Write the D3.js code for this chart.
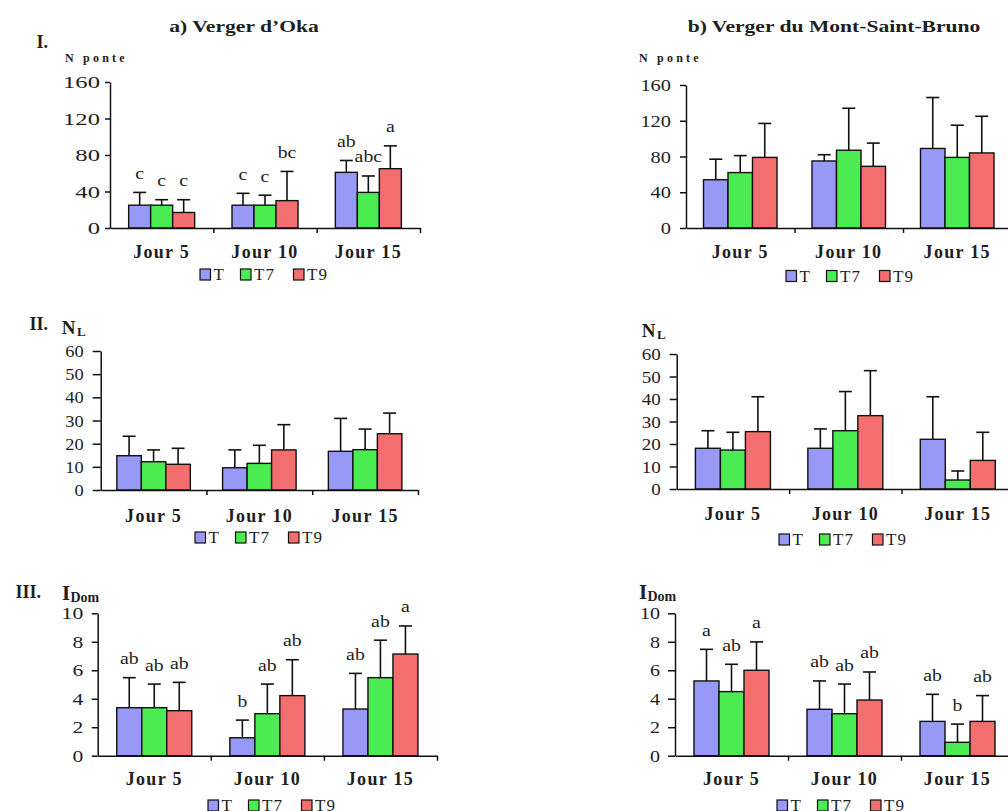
<!DOCTYPE html>
<html>
<head>
<meta charset="utf-8">
<script src="https://cdn.jsdelivr.net/npm/d3@7"></script>
<style>
  html, body { margin: 0; padding: 0; background: #fff; }
  svg { display: block; }
  svg text { font-family: "Liberation Serif", "DejaVu Serif", serif; fill: #1e1e1e; }
</style>
</head>
<body>
<svg id="chart" width="1008" height="811"></svg>
<script>
// ---- data -------------------------------------------------------------
const days = ["Jour 5", "Jour 10", "Jour 15"];
const treatments = ["T", "T7", "T9"];
const colors = ["#9898f7", "#4aec52", "#f36e6e"];

const ponteTicks = [0, 40, 80, 120, 160];
const nlTicks = [0, 10, 20, 30, 40, 50, 60];
const idomTicks = [0, 2, 4, 6, 8, 10];

// a) Verger d'Oka  — rows: day, columns: treatment
const okaPonteMean = [[25, 25, 17], [25, 25, 30], [61, 39, 65]];
const okaPonteSd = [[14, 6, 14], [13, 11, 32], [13, 18, 25]];
const okaPonteLetters = [["c", "c", "c"], ["c", "c", "bc"], ["ab", "abc", "a"]];

const okaNlMean = [[14.8, 12.2, 11.1], [9.6, 11.5, 17.3], [16.7, 17.4, 24.3]];
const okaNlSd = [[8.4, 5.1, 6.9], [7.7, 7.8, 10.9], [14.2, 8.9, 8.9]];

const okaIdomMean = [[3.37, 3.37, 3.16], [1.26, 2.95, 4.22], [3.28, 5.48, 7.14]];
const okaIdomSd = [[2.11, 1.66, 1.99], [1.24, 2.08, 2.52], [2.5, 2.63, 1.97]];
const okaIdomLetters = [["ab", "ab", "ab"], ["b", "ab", "ab"], ["ab", "ab", "a"]];

// b) Verger du Mont-Saint-Bruno
const msbPonteMean = [[54, 62, 79], [75, 87, 69], [89, 79, 84]];
const msbPonteSd = [[23, 19, 38], [7, 47, 26], [57, 36, 41]];

const msbNlMean = [[18.1, 17.3, 25.5], [18.1, 25.9, 32.6], [22.1, 4, 12.7]];
const msbNlSd = [[7.8, 7.9, 15.5], [8.6, 17.4, 20], [18.9, 4, 12.5]];

const msbIdomMean = [[5.25, 4.5, 6.0], [3.26, 2.95, 3.91], [2.41, 0.94, 2.41]];
const msbIdomSd = [[2.22, 1.92, 1.99], [1.99, 2.08, 1.97], [1.9, 1.28, 1.81]];
const msbIdomLetters = [["a", "ab", "a"], ["ab", "ab", "ab"], ["ab", "b", "ab"]];

// ---- layout of the six panels ----------------------------------------
const panels = [
  { mean: okaPonteMean, sd: okaPonteSd, letters: okaPonteLetters, ticks: ponteTicks, ymax: 160,
    x0: 110, x1: 420, y0: 228, y1: 82, bw: 22, tickLen: 5, labGap: 10, tickSx: 1.45,
    catY: 258, legX: 200, legY: 280 },
  { mean: msbPonteMean, sd: msbPonteSd, letters: null, ticks: ponteTicks, ymax: 160,
    x0: 686, x1: 1011.5, y0: 228, y1: 85, bw: 24.5, tickLen: 6, labGap: 15, tickSx: 1.2,
    catY: 258, legX: 786, legY: 281.5 },
  { mean: okaNlMean, sd: okaNlSd, letters: null, ticks: nlTicks, ymax: 60,
    x0: 100.7, x1: 418, y0: 490, y1: 351, bw: 24.5, tickLen: 8, labGap: 17, tickSx: 1.08,
    catY: 521.5, legX: 195, legY: 543 },
  { mean: msbNlMean, sd: msbNlSd, letters: null, ticks: nlTicks, ymax: 60,
    x0: 676.7, x1: 1014, y0: 489, y1: 354, bw: 25, tickLen: 7, labGap: 16, tickSx: 1.12,
    catY: 520, legX: 779, legY: 545 },
  { mean: okaIdomMean, sd: okaIdomSd, letters: okaIdomLetters, ticks: idomTicks, ymax: 10,
    x0: 97.7, x1: 437, y0: 755.7, y1: 613.3, bw: 25, tickLen: 6, labGap: 14.5, tickSx: 1.27,
    catY: 785, legX: 208, legY: 811 },
  { mean: msbIdomMean, sd: msbIdomSd, letters: msbIdomLetters, ticks: idomTicks, ymax: 10,
    x0: 675, x1: 1014, y0: 755.7, y1: 613.3, bw: 25, tickLen: 7, labGap: 15, tickSx: 1.18,
    catY: 785, legX: 777, legY: 811 }
];

const FONT = "'Liberation Serif', 'DejaVu Serif', serif";
const svg = d3.select("#chart");
svg.append("rect").attr("width", 1008).attr("height", 811).attr("fill", "#fff");

// text helper: Times-like glyphs widened horizontally
function label(g, x, y, str, o = {}) {
  return g.append("text")
    .attr("transform", `translate(${x},${y}) scale(${o.sx || 1},1)`)
    .attr("text-anchor", o.anchor || "start")
    .attr("font-family", FONT)
    .attr("font-size", o.size || 17)
    .attr("font-weight", o.weight || "normal")
    .attr("letter-spacing", o.ls || 0)
    .text(str);
}

function drawPanel(p) {
  const g = svg.append("g");
  const y = d3.scaleLinear().domain([0, p.ymax]).range([p.y0, p.y1]);
  const xb = d3.scaleBand().domain(days).range([p.x0, p.x1]);
  const xl = d3.scaleLinear().domain([0, days.length]).range([p.x0, p.x1]);
  const inner = d3.scaleBand().domain(treatments).range([0, p.bw * treatments.length]);
  const off = (xb.bandwidth() - p.bw * treatments.length) / 2;

  const recs = days.flatMap((d, i) => treatments.map((t, j) => ({
    d, t, j, m: p.mean[i][j], s: p.sd[i][j], l: p.letters ? p.letters[i][j] : null
  })));
  const cx = r => xb(r.d) + off + inner(r.t) + inner.bandwidth() / 2;

  // error bars (upper only)
  g.selectAll("line.err").data(recs).join("line")
    .attr("x1", cx).attr("x2", cx)
    .attr("y1", r => y(r.m)).attr("y2", r => y(r.m + r.s))
    .attr("stroke", "#111").attr("stroke-width", 1.6);
  g.selectAll("line.cap").data(recs).join("line")
    .attr("x1", r => cx(r) - 6.5).attr("x2", r => cx(r) + 6.5)
    .attr("y1", r => y(r.m + r.s)).attr("y2", r => y(r.m + r.s))
    .attr("stroke", "#111").attr("stroke-width", 1.6);

  // bars
  g.selectAll("rect.bar").data(recs).join("rect")
    .attr("x", r => xb(r.d) + off + inner(r.t))
    .attr("y", r => y(r.m))
    .attr("width", inner.bandwidth())
    .attr("height", r => y(0) - y(r.m))
    .attr("fill", r => colors[r.j])
    .attr("stroke", "#111").attr("stroke-width", 1.4);

  // significance letters
  recs.filter(r => r.l).forEach(r => {
    label(g, cx(r), y(r.m + r.s) - 13.5, r.l, { anchor: "middle", size: 16.5, sx: 1.2 });
  });

  // y axis
  const ya = g.append("g").attr("transform", `translate(${p.x0},0)`)
    .call(d3.axisLeft(y).tickValues(p.ticks).tickSize(p.tickLen).tickSizeOuter(0));
  ya.attr("font-family", FONT);
  ya.select(".domain").attr("stroke", "#111").attr("stroke-width", 1.5);
  ya.selectAll(".tick line").attr("stroke", "#111").attr("stroke-width", 1.5);
  ya.selectAll(".tick text")
    .attr("x", null).attr("dy", null)
    .attr("transform", `translate(${-p.labGap},5.5) scale(${p.tickSx},1)`)
    .attr("font-family", FONT)
    .attr("font-size", 17).attr("fill", "#1e1e1e");

  // x axis line with ticks between days
  const xa = g.append("g").attr("transform", `translate(0,${p.y0})`)
    .call(d3.axisBottom(xl).tickValues([1, 2, 3]).tickSize(5).tickSizeOuter(0).tickFormat(""));
  xa.select(".domain").attr("stroke", "#111").attr("stroke-width", 1.5);
  xa.selectAll(".tick line").attr("stroke", "#111").attr("stroke-width", 1.5);

  // day labels
  const ca = g.append("g").attr("transform", `translate(0,${p.catY})`)
    .call(d3.axisBottom(xb).tickSize(0));
  ca.attr("font-family", FONT);
  ca.select(".domain").remove();
  ca.selectAll(".tick text")
    .attr("y", 0).attr("dy", null)
    .attr("font-family", FONT)
    .attr("font-size", 18).attr("font-weight", "bold")
    .attr("letter-spacing", 1.3).attr("fill", "#1e1e1e");

  // legend
  const legOff = [0, 40.5, 93.5];
  treatments.forEach((t, j) => {
    g.append("rect")
      .attr("x", p.legX + legOff[j]).attr("y", p.legY - 11)
      .attr("width", 10.5).attr("height", 11)
      .attr("fill", colors[j]).attr("stroke", "#111").attr("stroke-width", 1.2);
    label(g, p.legX + legOff[j] + 13.5, p.legY, t, { size: 17, ls: 1 });
  });
}

panels.forEach(drawPanel);

// titles and axis captions
const tg = svg.append("g");
label(tg, 244, 31.5, "a) Verger d\u2019Oka", { anchor: "middle", size: 17, weight: "bold", sx: 1.27 });
label(tg, 834, 31.5, "b) Verger du Mont-Saint-Bruno", { anchor: "middle", size: 17, weight: "bold", sx: 1.27 });

label(tg, 48, 48, "I.", { size: 18, weight: "bold", anchor: "end" });
label(tg, 48, 330, "II.", { size: 18, weight: "bold", anchor: "end" });
label(tg, 41, 598, "III.", { size: 18, weight: "bold", anchor: "end" });

label(tg, 65, 62, "N ponte", { size: 12, weight: "bold", ls: 3.2 });
label(tg, 639, 62, "N ponte", { size: 12, weight: "bold", ls: 3.2 });

label(tg, 61.7, 333.5, "N", { size: 19, weight: "bold" });
label(tg, 77, 336, "L", { size: 13, weight: "bold" });
label(tg, 641.7, 337, "N", { size: 19, weight: "bold" });
label(tg, 657, 339, "L", { size: 13, weight: "bold" });

label(tg, 62, 600, "I", { size: 21, weight: "bold" });
label(tg, 70.5, 602, "Dom", { size: 14, weight: "bold" });
label(tg, 639, 598.5, "I", { size: 21, weight: "bold" });
label(tg, 647.5, 601, "Dom", { size: 14, weight: "bold" });
</script>
</body>
</html>
